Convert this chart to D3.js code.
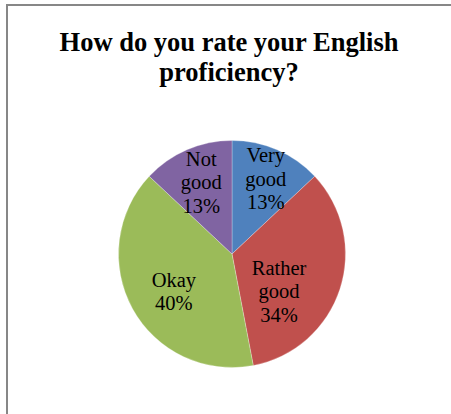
<!DOCTYPE html>
<html>
<head>
<meta charset="utf-8">
<script src="https://cdn.jsdelivr.net/npm/d3@7"></script>
<style>
  html, body { margin: 0; padding: 0; background: #fff; }
  svg { display: block; }
</style>
</head>
<body>
<svg id="chart" width="451" height="414"></svg>
<script>
// Survey answers, in drawing order (clockwise from 12 o'clock)
const categories = ["Very good", "Rather good", "Okay", "Not good"];
const labelLines = [["Very", "good"], ["Rather", "good"], ["Okay"], ["Not", "good"]];
const shares = [13, 34, 40, 13];
const titleLines = ["How do you rate your English", "proficiency?"];

const colors = ["#4F81BD", "#C0504D", "#9BBB59", "#8064A2"];

const width = 451, height = 414;
const cx = 232, cy = 254, radius = 113.5;
const serif = "'Liberation Serif', 'Times New Roman', serif";

const svg = d3.select("#chart");

// Chart frame (top and left edges visible)
svg.append("path")
  .attr("d", `M7,${height} L7,5 L${width},5`)
  .attr("fill", "none")
  .attr("stroke", "#878787")
  .attr("stroke-width", 2);

// Title
svg.append("g")
  .selectAll("text")
  .data(titleLines)
  .join("text")
  .attr("x", 229)
  .attr("y", (d, i) => 51 + i * 30)
  .attr("text-anchor", "middle")
  .attr("font-family", serif)
  .attr("font-weight", "bold")
  .attr("font-size", 26.5)
  .attr("fill", "#000")
  .text(d => d);

// Pie
const pie = d3.pie().sort(null).value(d => d);
const arcs = pie(shares);
const arc = d3.arc().innerRadius(0).outerRadius(radius);
const labelArc = d3.arc().innerRadius(80).outerRadius(80);

const g = svg.append("g").attr("transform", `translate(${cx},${cy})`);

g.selectAll("path.slice")
  .data(arcs)
  .join("path")
  .attr("class", "slice")
  .attr("d", arc)
  .attr("fill", (d, i) => colors[i])
  .attr("stroke", "rgba(255,255,255,0.45)")
  .attr("stroke-width", 0.6);

// Label fine placement inside each slice (best-fit style)
const labelNudge = [[2, -2], [-29, 12.5], [12, -1], [1, 1.5]];
const lineHeight = 23.5;

const labels = g.selectAll("g.label")
  .data(arcs)
  .join("g")
  .attr("class", "label")
  .attr("transform", (d, i) => {
    const [x, y] = labelArc.centroid(d);
    return `translate(${x + labelNudge[i][0]},${y + labelNudge[i][1]})`;
  });

labels.each(function(d, i) {
  const lines = labelLines[i].concat([d3.format(".0f")(d.data) + "%"]);
  const n = lines.length;
  d3.select(this).selectAll("text")
    .data(lines)
    .join("text")
    .attr("x", 0)
    .attr("y", (t, j) => (j - (n - 1) / 2) * lineHeight + 7)
    .attr("text-anchor", "middle")
    .attr("font-family", serif)
    .attr("font-size", 20.5)
    .attr("fill", "#000")
    .text(t => t);
});
</script>
</body>
</html>
